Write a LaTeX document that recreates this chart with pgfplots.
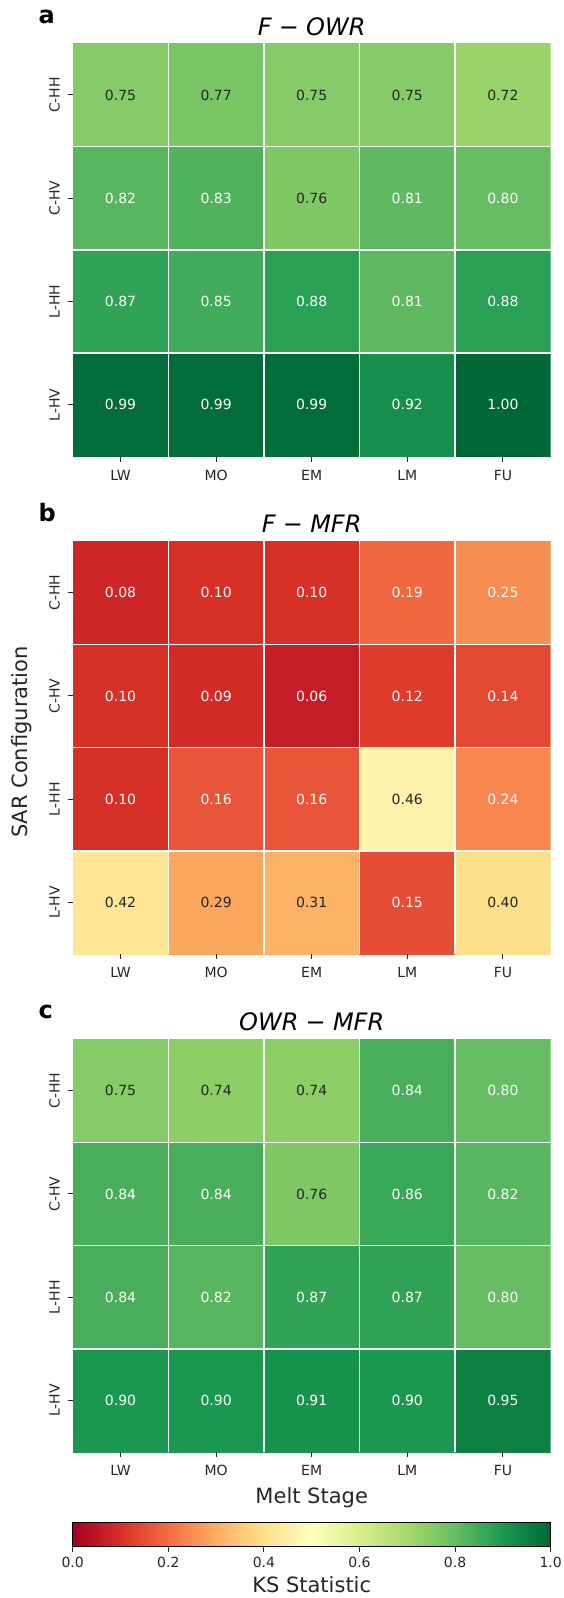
\documentclass[border=0pt]{standalone}
\usepackage{fontspec}
\setmainfont{DejaVu Sans}
\usepackage{pgfplots}
\usepackage{pgfplotstable}
\pgfplotsset{compat=1.18}
\usetikzlibrary{calc}
\definecolor{txtdark}{HTML}{262626}

\newcommand{\tickfont}{\fontsize{14}{16}\selectfont}
\newcommand{\labfont}{\fontsize{21}{24}\selectfont}
\newcommand{\titfont}{\fontsize{24}{28}\selectfont\itshape}
\newcommand{\letfont}{\fontsize{24}{28}\selectfont\bfseries}

% rows: y=3 C-HH, 2 C-HV, 1 L-HH, 0 L-HV ; cols LW MO EM LM FU
\pgfplotstableread{
x y v
0 3 0.75
1 3 0.77
2 3 0.75
3 3 0.75
4 3 0.72
0 2 0.82
1 2 0.83
2 2 0.76
3 2 0.81
4 2 0.80
0 1 0.87
1 1 0.85
2 1 0.88
3 1 0.81
4 1 0.88
0 0 0.99
1 0 0.99
2 0 0.99
3 0 0.92
4 0 1.00
}\tabFOWR

\pgfplotstableread{
x y v
0 3 0.08
1 3 0.10
2 3 0.10
3 3 0.19
4 3 0.25
0 2 0.10
1 2 0.09
2 2 0.06
3 2 0.12
4 2 0.14
0 1 0.10
1 1 0.16
2 1 0.16
3 1 0.46
4 1 0.24
0 0 0.42
1 0 0.29
2 0 0.31
3 0 0.15
4 0 0.40
}\tabFMFR

\pgfplotstableread{
x y v
0 3 0.75
1 3 0.74
2 3 0.74
3 3 0.84
4 3 0.80
0 2 0.84
1 2 0.84
2 2 0.76
3 2 0.86
4 2 0.82
0 1 0.84
1 1 0.82
2 1 0.87
3 1 0.87
4 1 0.80
0 0 0.90
1 0 0.90
2 0 0.91
3 0 0.90
4 0 0.95
}\tabOWRMFR

\pgfplotsset{
  heat/.style={
    width=478pt, height=413.2pt, scale only axis,
    xmin=-0.5, xmax=4.5, ymin=-0.5, ymax=3.5,
    colormap={rdylgn}{rgb255=(165,0,38) rgb255=(215,48,39) rgb255=(244,109,67)
      rgb255=(253,174,97) rgb255=(254,224,139) rgb255=(255,255,191)
      rgb255=(217,239,139) rgb255=(166,217,106) rgb255=(102,189,99)
      rgb255=(26,152,80) rgb255=(0,104,55)},
    point meta min=0, point meta max=1,
    axis line style={draw=none},
    xtick={0,1,2,3,4}, xticklabels={LW,MO,EM,LM,FU},
    ytick={0,1,2,3}, yticklabels={L-HV,L-HH,C-HV,C-HH},
    xtick pos=left, ytick pos=left,
    tick align=outside, major tick length=5pt,
    tick style={txtdark, line width=1pt},
    minor xtick={0.5,1.5,2.5,3.5}, minor ytick={0.5,1.5,2.5},
    minor tick length=0pt,
    xminorgrids, yminorgrids,
    minor grid style={white, line width=1.5pt},
    axis on top,
    ticklabel style={font=\tickfont, text=txtdark},
    xticklabel style={anchor=base, yshift=-18.5pt},
    yticklabel style={xshift=-8.2pt, rotate=90, anchor=base},
  },
  cells/.style={matrix plot*, mesh/cols=5, mesh/rows=4, point meta=explicit},
  vals/.style={only marks, mark=none, point meta=explicit,
    visualization depends on={\thisrow{v}\as\cellv},
    nodes near coords={\pgfmathprintnumber[fixed,fixed zerofill,precision=2,assume math mode=true]{\cellv}},
    nodes near coords style={anchor=center, font=\tickfont,
      /utils/exec={\pgfmathparse{and(\cellv>0.26,\cellv<0.78)}%
        \ifdim\pgfmathresult pt>0.5pt\relax\colorlet{tcol}{txtdark}\else\colorlet{tcol}{white}\fi},
      text=tcol}},
}

\begin{document}
\begin{tikzpicture}
\begin{axis}[heat, at={(72.7pt,-43.3pt)}, anchor=north west]
\addplot[cells] table[x=x, y=y, meta=v]{\tabFOWR};
\addplot[vals] table[x=x, y=y, meta=v]{\tabFOWR};
\end{axis}

\begin{axis}[heat, at={(72.7pt,-541pt)}, anchor=north west]
\addplot[cells] table[x=x, y=y, meta=v]{\tabFMFR};
\addplot[vals] table[x=x, y=y, meta=v]{\tabFMFR};
\end{axis}

\begin{axis}[heat, at={(72.7pt,-1039pt)}, anchor=north west,
  colorbar horizontal,
  colorbar shift/.style={},
  colorbar/width=24pt,
  colorbar style={
    at={($(parent axis.south west)+(0pt,-70.7pt)$)}, anchor=north west,
    width=478pt, height=24pt, scale only axis,
    xtick={0,0.2,0.4,0.6,0.8,1},
    xticklabel={\pgfmathprintnumber[fixed,fixed zerofill,precision=1,assume math mode=true]{\tick}},
    xtick pos=left,
    tick align=outside, major tick length=5pt,
    tick style={txtdark, line width=1pt},
    xticklabel style={font=\tickfont, text=txtdark, anchor=base, yshift=-15.6pt},
    axis line style={black, line width=1pt},
    xlabel={KS Statistic},
    xlabel style={font=\labfont, text=txtdark, at={(axis description cs:0.5,0)}, anchor=base, yshift=-46pt},
  }]
\addplot[cells] table[x=x, y=y, meta=v]{\tabOWRMFR};
\addplot[vals] table[x=x, y=y, meta=v]{\tabOWRMFR};
\end{axis}

% panel letters and titles
\node[font=\letfont, anchor=base west, text=black] at (35pt,-23.3pt) {a};
\node[font=\letfont, anchor=base west, text=black] at (35pt,-521.7pt) {b};
\node[font=\letfont, anchor=base west, text=black] at (35pt,-1018.3pt) {c};
\node[font=\titfont, anchor=base, text=black] at (311.7pt,-35pt) {F\hspace{0.3em}{\upshape −}\hspace{0.3em}OWR};
\node[font=\titfont, anchor=base, text=black] at (311.7pt,-532.5pt) {F\hspace{0.3em}{\upshape −}\hspace{0.3em}MFR};
\node[font=\titfont, anchor=base, text=black] at (311.7pt,-1030.5pt) {OWR\hspace{0.3em}{\upshape −}\hspace{0.3em}MFR};
\node[font=\labfont, rotate=90, anchor=base, text=txtdark] at (27.5pt,-742pt) {SAR Configuration};
\node[font=\labfont, anchor=base, text=txtdark] at (311.7pt,-1503.3pt) {Melt Stage};

\pgfresetboundingbox
\useasboundingbox (0,0) rectangle (564pt,-1598pt);
\end{tikzpicture}
\end{document}
